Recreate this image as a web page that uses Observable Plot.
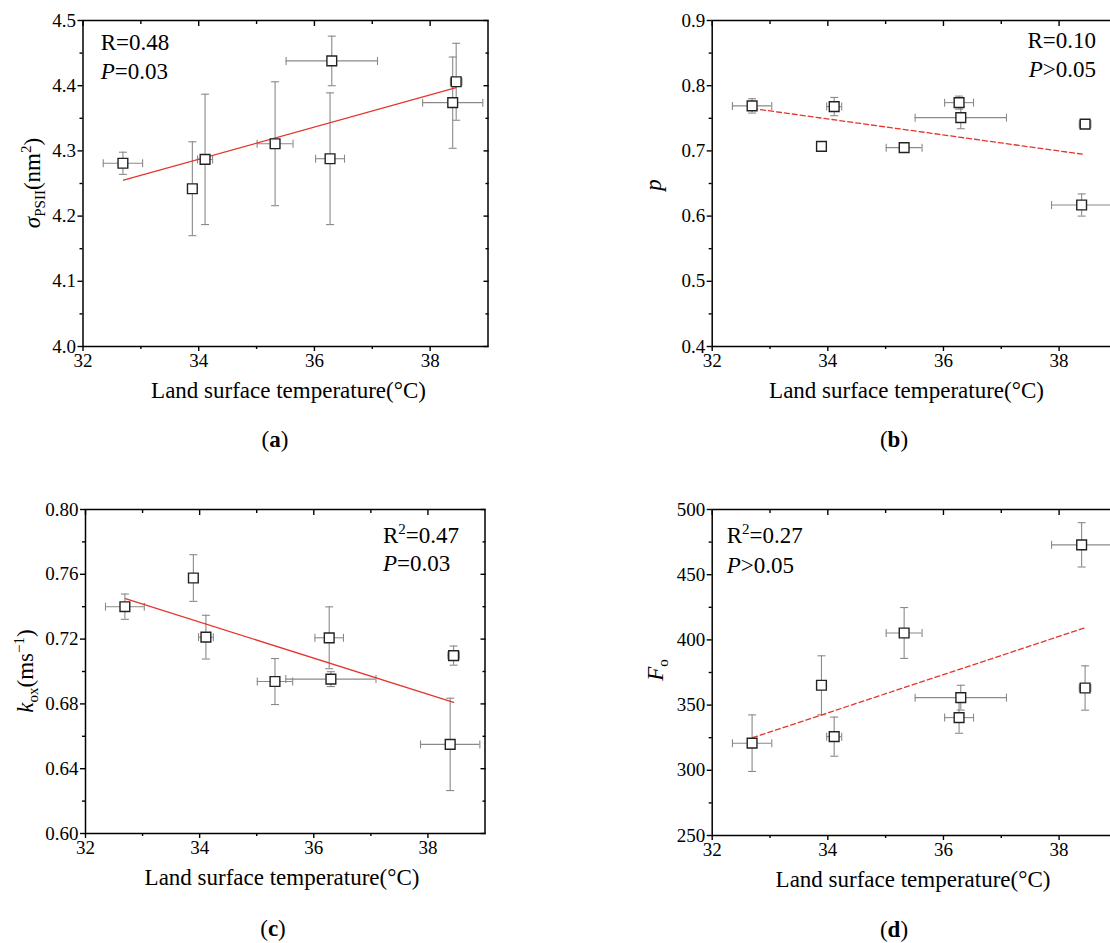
<!DOCTYPE html>
<html><head><meta charset="utf-8">
<script src="https://cdn.jsdelivr.net/npm/d3@7"></script>
<script src="https://cdn.jsdelivr.net/npm/@observablehq/plot@0.6"></script>
<style>
html,body{margin:0;padding:0;background:#fff;}
#root{position:relative;width:1110px;height:943px;overflow:hidden;background:#fff;}
.panel{position:absolute;}
.panel svg{max-width:none !important;}
</style></head><body><div id="root"></div>
<script>
// ---- data ----
const lst    = [32.69, 33.89, 34.11, 35.32, 36.27, 36.30, 38.45, 38.39];
const lstErr = [0.34, 0.07, 0.13, 0.31, 0.25, 0.79, 0.10, 0.52];

const sigmaPSII = [4.281, 4.242, 4.287, 4.311, 4.288, 4.438, 4.406, 4.374];
const sigmaErr  = [0.017, 0.072, 0.100, 0.095, 0.101, 0.038, 0.059, 0.070];
const pVals     = [0.769, 0.707, 0.768, 0.705, 0.774, 0.751, 0.741, 0.617];
const pErr      = [0.011, 0.004, 0.014, 0.003, 0.010, 0.017, 0.005, 0.017];
const kox       = [0.7400, 0.7577, 0.7212, 0.6938, 0.7208, 0.6953, 0.7098, 0.6550];
const koxErr    = [0.0078, 0.0144, 0.0135, 0.0142, 0.0191, 0.0046, 0.0059, 0.0285];
const fo        = [320.8, 365.2, 325.8, 405.3, 340.4, 355.7, 363.1, 472.9];
const foErr     = [21.7, 22.6, 15.0, 19.5, 12.0, 9.5, 17.0, 17.0];

const fitXa = [32.70, 38.45], fitYa = [4.255, 4.397];
const fitXb = [32.70, 38.40], fitYb = [0.765, 0.695];
const fitXc = [32.70, 38.45], fitYc = [0.745, 0.681];
const fitXd = [32.70, 38.43], fitYd = [325, 409];

const xMajor = [32, 34, 36, 38];
const xMinor = [33, 35, 37];
const yTicksA = [4.0, 4.1, 4.2, 4.3, 4.4, 4.5], yMinorA = [4.05, 4.15, 4.25, 4.35, 4.45];
const yTicksB = [0.4, 0.5, 0.6, 0.7, 0.8, 0.9], yMinorB = [0.45, 0.55, 0.65, 0.75, 0.85];
const yTicksC = [0.60, 0.64, 0.68, 0.72, 0.76, 0.80], yMinorC = [0.62, 0.66, 0.70, 0.74, 0.78];
const yTicksD = [250, 300, 350, 400, 450, 500], yMinorD = [275, 325, 375, 425, 475];

// ---- rendering ----
const root = document.getElementById("root");
const FONT = "'Liberation Serif', 'Times New Roman', serif";
const TICKFONT = 19;
const grey = "#8a8a8a";
const red = "#e5342b";
const hcap = {draw(ctx, size) { const r = Math.sqrt(size / Math.PI); ctx.moveTo(-r, 0); ctx.lineTo(r, 0); }};
const vcap = {draw(ctx, size) { const r = Math.sqrt(size / Math.PI); ctx.moveTo(0, -r); ctx.lineTo(0, r); }};

const cfgs = [
  {left: 0, top: 0, width: 560, height: 470, fl: 82.5, ft: 20, fr: 487.5, fb: 346,
   y: sigmaPSII, yErr: sigmaErr, yDomain: [4.0, 4.5], yTicks: yTicksA, yMinor: yMinorA, fmt: d3.format(".1f"),
   fitX: fitXa, fitY: fitYa, dashed: false,
   yLabel: {x: 40, y: 183, parts: [{t: "σ", i: 1}, {t: "PSII", s: 15, dy: 5}, {t: "(nm", dy: -5}, {t: "2", s: 15, dy: -9}, {t: ")", dy: 9}]},
   annot: {anchor: "start", x: 100.7, lines: [{y: 50, parts: [{t: "R=0.48"}]}, {y: 79, parts: [{t: "P", i: 1}, {t: "=0.03"}]}]},
   xTitle: {x: 288.5, y: 398}, caption: {x: 275, y: 447, letter: "a"}},
  {left: 560, top: 0, width: 570, height: 470, fl: 711.7, ft: 20, fr: 1116.4, fb: 346,
   y: pVals, yErr: pErr, yDomain: [0.4, 0.9], yTicks: yTicksB, yMinor: yMinorB, fmt: d3.format(".1f"),
   fitX: fitXb, fitY: fitYb, dashed: true,
   yLabel: {x: 661, y: 185, parts: [{t: "p", i: 1}]},
   annot: {anchor: "end", x: 1096, lines: [{y: 47.5, parts: [{t: "R=0.10"}]}, {y: 76.5, parts: [{t: "P", i: 1}, {t: ">0.05"}]}]},
   xTitle: {x: 906.5, y: 398}, caption: {x: 894, y: 447, letter: "b"}},
  {left: 0, top: 470, width: 560, height: 473, fl: 85, ft: 509, fr: 484.5, fb: 833,
   y: kox, yErr: koxErr, yDomain: [0.60, 0.80], yTicks: yTicksC, yMinor: yMinorC, fmt: d3.format(".2f"),
   fitX: fitXc, fitY: fitYc, dashed: false,
   yLabel: {x: 33, y: 671, parts: [{t: "k", i: 1}, {t: "ox", s: 15, dy: 5}, {t: "(ms", dy: -5}, {t: "−1", s: 15, dy: -9}, {t: ")", dy: 9}]},
   annot: {anchor: "start", x: 383, lines: [{y: 543.3, parts: [{t: "R"}, {t: "2", s: 15, dy: -9}, {t: "=0.47", dy: 9}]}, {y: 571, parts: [{t: "P", i: 1}, {t: "=0.03"}]}]},
   xTitle: {x: 282, y: 885}, caption: {x: 273, y: 936, letter: "c"}},
  {left: 560, top: 470, width: 570, height: 473, fl: 711.7, ft: 509, fr: 1116.4, fb: 835,
   y: fo, yErr: foErr, yDomain: [250, 500], yTicks: yTicksD, yMinor: yMinorD, fmt: d3.format("d"),
   fitX: fitXd, fitY: fitYd, dashed: true,
   yLabel: {x: 663, y: 670, parts: [{t: "F", i: 1}, {t: "o", s: 15, dy: 5}]},
   annot: {anchor: "start", x: 726.7, lines: [{y: 543.3, parts: [{t: "R"}, {t: "2", s: 15, dy: -9}, {t: "=0.27", dy: 9}]}, {y: 572.7, parts: [{t: "P", i: 1}, {t: ">0.05"}]}]},
   xTitle: {x: 913, y: 887}, caption: {x: 894, y: 937, letter: "d"}}
];

function richText(g, x, y, parts, {anchor = "start", rotate = false, size = 23} = {}) {
  const t = g.append("text").attr("font-size", size).attr("text-anchor", anchor)
    .attr("fill", "black").attr("font-family", FONT);
  if (rotate) t.attr("transform", `translate(${x},${y}) rotate(-90)`);
  else t.attr("x", x).attr("y", y);
  for (const p of parts) {
    const s = t.append("tspan").text(p.t);
    if (p.i) s.attr("font-style", "italic");
    if (p.b) s.attr("font-weight", "bold");
    if (p.s) s.attr("font-size", p.s);
    if (p.dy) s.attr("dy", p.dy);
  }
  return t;
}

for (const c of cfgs) {
  const rows = lst.map((x, i) => ({x, ex: lstErr[i], y: c.y[i], ey: c.yErr[i]}));
  const fit = c.fitX.map((x, i) => ({x, y: c.fitY[i]}));
  const ax = {strokeWidth: 1.4, label: null, fontSize: TICKFONT, fontFamily: FONT};
  const none = () => "";
  const eb = {stroke: grey, strokeWidth: 1.1};
  const plot = Plot.plot({
    width: c.width, height: c.height,
    marginLeft: c.fl - c.left, marginTop: c.ft - c.top,
    marginRight: c.left + c.width - c.fr, marginBottom: c.top + c.height - c.fb,
    x: {domain: [32, 39]},
    y: {domain: c.yDomain},
    style: {fontFamily: FONT, fontSize: TICKFONT + "px", color: "black", background: "transparent", maxWidth: "none", overflow: "visible"},
    marks: [
      Plot.ruleX(rows, {x: "x", y1: d => d.y - d.ey, y2: d => d.y + d.ey, ...eb}),
      Plot.dot(rows, {x: "x", y: d => d.y - d.ey, symbol: hcap, r: 4, ...eb}),
      Plot.dot(rows, {x: "x", y: d => d.y + d.ey, symbol: hcap, r: 4, ...eb}),
      Plot.ruleY(rows, {y: "y", x1: d => d.x - d.ex, x2: d => d.x + d.ex, ...eb}),
      Plot.dot(rows, {x: d => d.x - d.ex, y: "y", symbol: vcap, r: 4, ...eb}),
      Plot.dot(rows, {x: d => d.x + d.ex, y: "y", symbol: vcap, r: 4, ...eb}),
      Plot.line(fit, {x: "x", y: "y", stroke: red, strokeWidth: 1.3, strokeDasharray: c.dashed ? "5,3" : null}),
      Plot.dot(rows, {x: "x", y: "y", symbol: "square", r: 5.5, stroke: "#222", fill: "white", strokeWidth: 1.4}),
      Plot.frame({stroke: "black", strokeWidth: 1.5}),
      Plot.axisX({ticks: xMajor, tickSize: 5, tickPadding: 2, tickFormat: d => String(d), ...ax}),
      Plot.axisX({ticks: xMinor, tickSize: 3, tickFormat: none, ...ax}),
      Plot.axisX({anchor: "top", ticks: xMajor, tickSize: 5, dy: 5, tickFormat: none, ...ax}),
      Plot.axisX({anchor: "top", ticks: xMinor, tickSize: 3, dy: 3, tickFormat: none, ...ax}),
      Plot.axisY({ticks: c.yTicks, tickSize: 5, tickPadding: 2, tickFormat: c.fmt, ...ax}),
      Plot.axisY({ticks: c.yMinor, tickSize: 3, tickFormat: none, ...ax}),
      Plot.axisY({anchor: "right", ticks: c.yTicks, tickSize: 5, dx: -5, tickFormat: none, ...ax}),
      Plot.axisY({anchor: "right", ticks: c.yMinor, tickSize: 3, dx: -3, tickFormat: none, ...ax})
    ]
  });
  const g = d3.select(plot).append("g");
  const X = v => v - c.left, Y = v => v - c.top;
  richText(g, X(c.yLabel.x), Y(c.yLabel.y), c.yLabel.parts, {anchor: "middle", rotate: true});
  for (const ln of c.annot.lines) richText(g, X(c.annot.x), Y(ln.y), ln.parts, {anchor: c.annot.anchor});
  richText(g, X(c.xTitle.x), Y(c.xTitle.y), [{t: "Land surface temperature(°C)"}], {anchor: "middle"});
  richText(g, X(c.caption.x), Y(c.caption.y), [{t: "("}, {t: c.caption.letter, b: 1}, {t: ")"}], {anchor: "middle"});
  const div = document.createElement("div");
  div.className = "panel";
  div.style.left = c.left + "px";
  div.style.top = c.top + "px";
  div.style.width = c.width + "px";
  div.style.height = c.height + "px";
  div.appendChild(plot);
  root.appendChild(div);
}
</script></body></html>
